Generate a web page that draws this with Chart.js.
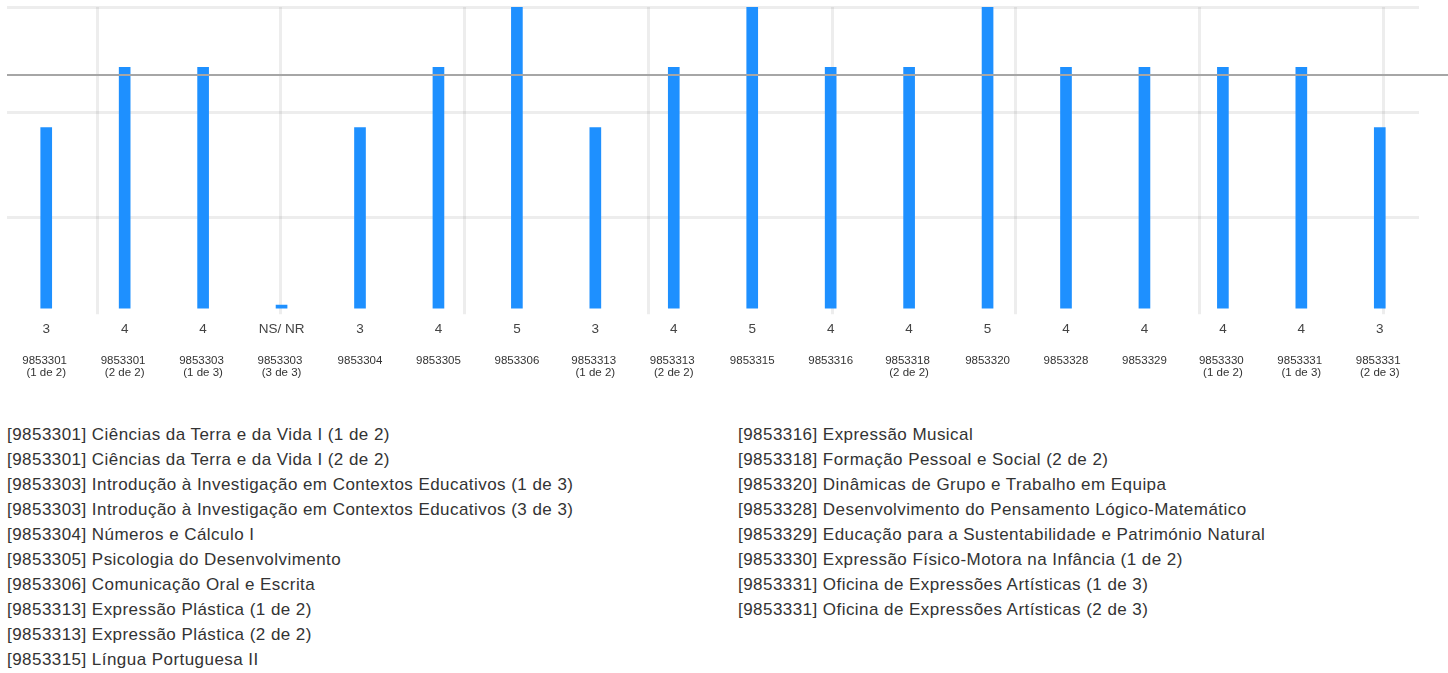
<!DOCTYPE html>
<html><head><meta charset="utf-8">
<script src="https://cdn.jsdelivr.net/npm/chart.js@4/dist/chart.umd.min.js"></script>
<style>
body{margin:0;background:#fff;font-family:"Liberation Sans",Arial,sans-serif;}
#wrap{position:absolute;left:0;top:0;width:1448px;height:401px;}
.legend{position:absolute;top:422px;font-size:17px;letter-spacing:0.45px;color:#333;line-height:25px;white-space:nowrap;}
</style></head><body>
<div id="wrap"><canvas id="c"></canvas></div>
<div class="legend" id="l1" style="left:7px"></div>
<div class="legend" id="l2" style="left:738px"></div>
<script>
const valueLabels = ["3","4","4","NS/ NR","3","4","5","3","4","5","4","4","5","4","4","4","4","3"];
const codeLabels = [
  ["9853301 ","(1 de 2)"],["9853301 ","(2 de 2)"],["9853303 ","(1 de 3)"],["9853303 ","(3 de 3)"],
  ["9853304"],["9853305"],["9853306"],["9853313 ","(1 de 2)"],["9853313 ","(2 de 2)"],
  ["9853315"],["9853316"],["9853318 ","(2 de 2)"],["9853320"],["9853328"],["9853329"],
  ["9853330 ","(1 de 2)"],["9853331 ","(1 de 3)"],["9853331 ","(2 de 3)"]
];
const scores = [3,4,4,0.05,3,4,5,3,4,5,4,4,5,4,4,4,4,3];
const averageScore = 3.87;
const legendLeft = [
  "[9853301] Ciências da Terra e da Vida I (1 de 2)",
  "[9853301] Ciências da Terra e da Vida I (2 de 2)",
  "[9853303] Introdução à Investigação em Contextos Educativos (1 de 3)",
  "[9853303] Introdução à Investigação em Contextos Educativos (3 de 3)",
  "[9853304] Números e Cálculo I",
  "[9853305] Psicologia do Desenvolvimento",
  "[9853306] Comunicação Oral e Escrita",
  "[9853313] Expressão Plástica (1 de 2)",
  "[9853313] Expressão Plástica (2 de 2)",
  "[9853315] Língua Portuguesa II"
];
const legendRight = [
  "[9853316] Expressão Musical",
  "[9853318] Formação Pessoal e Social (2 de 2)",
  "[9853320] Dinâmicas de Grupo e Trabalho em Equipa",
  "[9853328] Desenvolvimento do Pensamento Lógico-Matemático",
  "[9853329] Educação para a Sustentabilidade e Património Natural",
  "[9853330] Expressão Físico-Motora na Infância (1 de 2)",
  "[9853331] Oficina de Expressões Artísticas (1 de 3)",
  "[9853331] Oficina de Expressões Artísticas (2 de 3)"
];

function fillLegend(id, items){
  const el = document.getElementById(id);
  items.forEach(t => { const d = document.createElement('div'); d.textContent = t; el.appendChild(d); });
}
fillLegend('l1', legendLeft);
fillLegend('l2', legendRight);

const gridColor = 'rgba(0,0,0,0.07)';

const avgLinePlugin = {
  id: 'avgLine',
  afterDatasetsDraw(chart){
    const y = chart.scales.y.getPixelForValue(averageScore);
    const ctx = chart.ctx;
    ctx.save();
    ctx.strokeStyle = '#a6a6a6';
    ctx.lineWidth = 2;
    ctx.beginPath();
    ctx.moveTo(chart.chartArea.left, y);
    ctx.lineTo(chart.width, y);
    ctx.stroke();
    ctx.restore();
  }
};

new Chart(document.getElementById('c'), {
  type: 'bar',
  data: {
    labels: valueLabels,
    datasets: [{
      data: scores,
      backgroundColor: '#1e90ff',
      borderWidth: 0,
      barThickness: 11,
      xAxisID: 'x',
      yAxisID: 'y'
    }]
  },
  options: {
    responsive: true,
    maintainAspectRatio: false,
    animation: false,
    layout: { padding: { left: 7, right: 29, top: 7, bottom: 12 } },
    plugins: { legend: { display: false }, tooltip: { enabled: false } },
    scales: {
      x: {
        type: 'category',
        position: 'bottom',
        weight: 0,
        grid: { display: false, drawTicks: false },
        border: { display: false },
        ticks: { color: '#444', font: { family: 'Liberation Sans', size: 13.5, lineHeight: 1.2 }, padding: 7, autoSkip: false, maxRotation: 0 }
      },
      xCodes: {
        type: 'category',
        position: 'bottom',
        weight: 1,
        labels: codeLabels,
        grid: { display: false, drawTicks: false },
        border: { display: false },
        ticks: { color: '#333', font: { family: 'Liberation Sans', size: 11.5, lineHeight: 1.07 }, padding: 10, autoSkip: false, maxRotation: 0 }
      },
      xGrid: {
        type: 'linear',
        position: 'top',
        offset: false,
        min: -0.4897,
        max: 7.193,
        afterBuildTicks: (axis) => { axis.ticks = [0,1,2,3,4,5,6,7].map(v => ({ value: v })); },
        grid: { color: gridColor, lineWidth: 3, drawTicks: false, offset: false },
        border: { display: false },
        ticks: { display: false }
      },
      y: {
        display: false,
        min: -0.1,
        max: 5
      },
      yGrid: {
        type: 'linear',
        position: 'left',
        min: -0.914,
        max: 2,
        afterBuildTicks: (axis) => { axis.ticks = [0,1,2].map(v => ({ value: v })); },
        grid: { color: gridColor, lineWidth: 3, drawTicks: false },
        border: { display: false },
        ticks: { display: false }
      }
    }
  },
  plugins: [avgLinePlugin]
});
</script>
</body></html>
